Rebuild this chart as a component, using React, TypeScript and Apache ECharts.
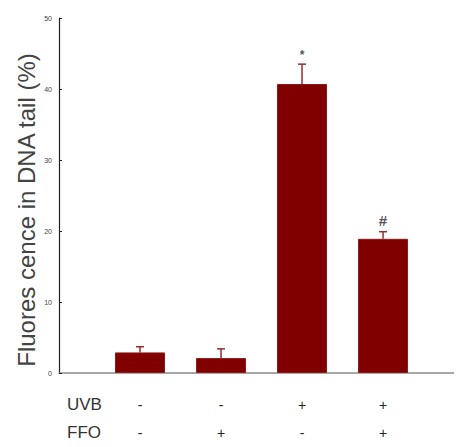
import React, { useEffect, useRef } from "react";
import * as echarts from "echarts";

const positions = [1, 2, 3, 4];
const means = [2.9, 2.1, 40.7, 18.9];
const errors = [0.8, 1.3, 2.8, 1.0];
const marks = ["", "", "*", "#"];
const uvb = ["-", "-", "+", "+"];
const ffo = ["-", "+", "-", "+"];
const yTicks = [0, 10, 20, 30, 40, 50];
const yTitle = "Fluores cence in DNA tail (%)";

export default function App() {
  const ref = useRef<HTMLDivElement>(null);
  useEffect(() => {
    const chart = echarts.init(ref.current!, null, { renderer: "svg" });
    const font = "'Liberation Sans', Arial, sans-serif";
    const barData = positions.map((p, i) => [p, means[i]]);
    const errData = positions.map((p, i) => [p, means[i], means[i] + errors[i], i]);
    chart.setOption({
      animation: false,
      backgroundColor: "#fff",
      grid: { left: 59, top: 18, width: 401, bottom: 74 },
      xAxis: {
        type: "value",
        min: 0,
        max: 4.95,
        interval: 1,
        splitLine: { show: false },
        axisTick: { show: false },
        axisLine: { show: true, lineStyle: { color: "#8a8a8a", width: 1.5 } },
        axisLabel: {
          margin: 18,
          fontFamily: font,
          fontSize: 14,
          lineHeight: 28,
          color: "#222",
          showMaxLabel: false,
          formatter: (v: number) => {
            const i = positions.indexOf(Math.round(v));
            if (i < 0) return "";
            return uvb[i] + "\n" + ffo[i];
          },
        },
      },
      yAxis: {
        type: "value",
        min: 0,
        max: 50,
        interval: 10,
        splitLine: { show: false },
        axisLine: { show: true, lineStyle: { color: "#222", width: 1.2 } },
        axisTick: { show: true, inside: true, length: 3, lineStyle: { color: "#222" } },
        axisLabel: {
          fontFamily: font,
          fontSize: 7,
          color: "#444",
          margin: 7,
          formatter: (v: number) => (yTicks.includes(v) ? String(v) : ""),
        },
      },
      series: [
        {
          type: "bar",
          data: barData,
          barWidth: 50,
          itemStyle: { color: "#800000", borderColor: "#8e1a1a", borderWidth: 1 },
        },
        {
          type: "custom",
          data: errData,
          z: 5,
          renderItem: (params: any, api: any) => {
            const x = api.value(0);
            const lo = api.coord([x, api.value(1)]);
            const hi = api.coord([x, api.value(2)]);
            const idx = api.value(3);
            const cap = 4;
            const style = { stroke: "#9a2a2a", lineWidth: 1.5 };
            const children: any[] = [
              { type: "line", shape: { x1: lo[0], y1: lo[1], x2: hi[0], y2: hi[1] }, style },
              { type: "line", shape: { x1: hi[0] - cap, y1: hi[1], x2: hi[0] + cap, y2: hi[1] }, style },
            ];
            const m = marks[idx];
            if (m) {
              children.push({
                type: "text",
                x: hi[0],
                y: hi[1] - (m === "#" ? 4 : 3),
                style: {
                  text: m,
                  fontFamily: font,
                  fontSize: m === "#" ? 15 : 12,
                  fontWeight: "bold",
                  fill: "#555",
                  align: "center",
                  verticalAlign: "bottom",
                },
              });
            }
            return { type: "group", children };
          },
        },
      ],
      graphic: [
        {
          type: "text",
          x: 26,
          y: 210,
          rotation: Math.PI / 2,
          style: {
            text: yTitle,
            fontFamily: font,
            fontSize: 24,
            fill: "#444",
            align: "center",
            verticalAlign: "middle",
          },
        },
        {
          type: "text",
          left: 67,
          top: 396,
          style: { text: "UVB", fontFamily: font, fontSize: 17, fill: "#333" },
        },
        {
          type: "text",
          left: 67,
          top: 424,
          style: { text: "FFO", fontFamily: font, fontSize: 17, fill: "#333" },
        },
      ],
    });
    return () => chart.dispose();
  }, []);
  return <div ref={ref} style={{ width: 462, height: 447, margin: -8 }} />;
}
